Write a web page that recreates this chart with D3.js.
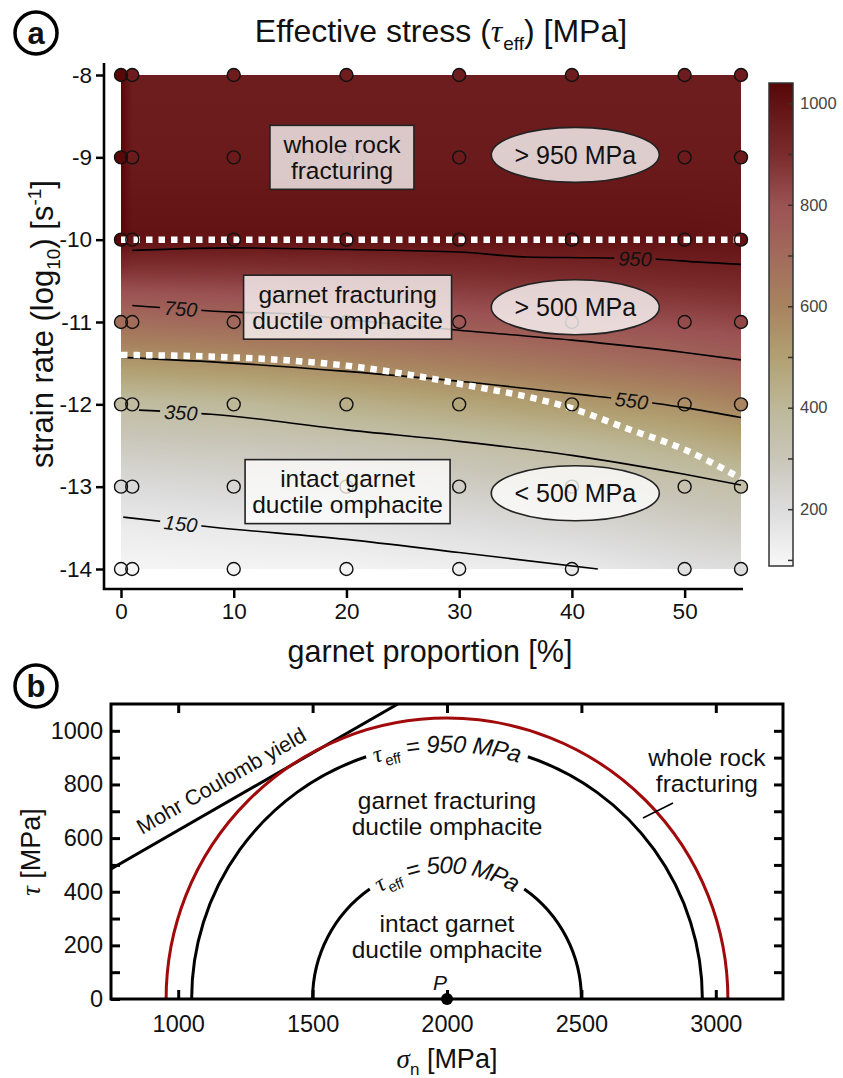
<!DOCTYPE html>
<html>
<head>
<meta charset="utf-8">
<script src="https://cdn.jsdelivr.net/npm/d3@7/dist/d3.min.js"></script>
<style>
  body { margin: 0; background: #fff; }
  svg text { font-family: "Liberation Sans", Arial, Helvetica, sans-serif; fill: #111; }
  .greek { font-family: "Liberation Serif", "DejaVu Serif", serif; font-style: italic; }
</style>
</head>
<body>
<svg id="fig" width="843" height="1078"></svg>
<script>
// ---------------- panel a : data ----------------
const garnetPct = [0, 1, 10, 20, 30, 40, 50, 55];          // model columns [%]
const strainRate = [-8, -9, -10, -11, -12, -13, -14];       // log10 strain rate rows
const fieldRows = [-8, -9, -10, -10.25, -10.5, -11, -11.5, -12, -12.5, -13, -13.5, -14];
const fieldStress = [
  [1035, 955, 955, 955, 955, 955, 955, 955],
  [1035, 965, 965, 965, 965, 965, 965, 965],
  [1035, 1000, 1000, 1000, 1000, 1000, 1000, 995],
  [930, 913, 912, 919, 929, 940, 955, 959],
  [841, 841, 847, 861, 878, 892, 909, 916],
  [691, 691, 711, 740, 775, 796, 818, 829],
  [528, 528, 550, 582, 623, 669, 713, 739],
  [372, 372, 391, 436, 476, 518, 559, 596],
  [284, 284, 296, 319, 347, 382, 435, 469],
  [207, 207, 223, 241, 267, 293, 329, 350],
  [140, 140, 150, 162, 190, 218, 257, 275],
  [100, 100, 105, 110, 125, 143, 185, 195]
];
const contourLevels = [950, 750, 550, 350, 150];
const contourLines = [
  [[1, -10.13], [10, -10.1], [20, -10.12], [30, -10.15], [36, -10.21], [42, -10.22], [48, -10.24], [51, -10.27], [55, -10.3]],
  [[1, -10.8], [10, -10.88], [15, -10.9], [20, -10.97], [30, -11.1], [40, -11.22], [50, -11.37], [55, -11.46]],
  [[0, -11.43], [10, -11.5], [20, -11.6], [30, -11.72], [40, -11.87], [47.5, -11.99], [50, -12.04], [55, -12.16]],
  [[1.6, -12.07], [8, -12.12], [20, -12.31], [30, -12.45], [40, -12.62], [50, -12.85], [55, -12.98]],
  [[0.2, -13.37], [8, -13.49], [20, -13.64], [30, -13.8], [42.3, -14.0]]
];
const contourLabelAt = [45.6, 5.3, 45.3, 5.3, 5.3];
const limit950 = [[0, -10], [55, -10]];
const limit500 = [[0, -11.4], [10, -11.43], [20, -11.53], [30, -11.75], [40, -12.05], [45, -12.3], [50, -12.55], [55, -12.9]];
const regimeText = [["whole rock", "fracturing"], ["garnet fracturing", "ductile omphacite"], ["intact garnet", "ductile omphacite"]];
const regimeAt = [[19.6, -9.0], [20.1, -10.82], [20.1, -13.06]];
const stressText = ["> 950 MPa", "> 500 MPa", "< 500 MPa"];
const stressAt = [[40.3, -8.97], [40.3, -10.82], [40.3, -13.08]];

// colour map (matches the colour bar)
const cmapStops = [88, 200, 300, 400, 500, 600, 700, 800, 900, 1000, 1040];
const cmapColors = ["#f8f8f8", "#dcdcdc", "#c9c6b9", "#bdb898", "#b1a072", "#a8835f", "#a26b5c", "#9b5253", "#7b2b2b", "#621212", "#560606"];
const barTicks = [100, 200, 300, 400, 500, 600, 700, 800, 900, 1000];

// ---------------- panel b : data ----------------
const sigmaP = 2000;                 // P [MPa]
const tauEffLevels = [500, 950];     // circle radii = tau_eff [MPa]
const wholeRockR = 1045;             // circle touching the envelope
const mohrLine = [[750, 485], [1817, 1100]];
const sigmaTicks = [1000, 1500, 2000, 2500, 3000];
const tauTicks = [0, 100, 200, 300, 400, 500, 600, 700, 800, 900, 1000];

const svg = d3.select("#fig");
const defs = svg.append("defs");
const color = d3.scaleLinear().domain(cmapStops).range(cmapColors).clamp(true);

// ================= panel a =================
const x = d3.scaleLinear().domain([0, 55]).range([121, 741]);
const y = d3.scaleLinear().domain([-8, -14]).range([75, 569]);
const gA = svg.append("g");

function stress(gx, gy) {
  let i = d3.bisectRight(garnetPct, gx) - 1;
  i = Math.max(0, Math.min(garnetPct.length - 2, i));
  let j = 0;
  while (j < fieldRows.length - 2 && fieldRows[j + 1] > gy) j++;
  const tx = Math.max(0, Math.min(1, (gx - garnetPct[i]) / (garnetPct[i + 1] - garnetPct[i])));
  const ty = Math.max(0, Math.min(1, (gy - fieldRows[j]) / (fieldRows[j + 1] - fieldRows[j])));
  const r0 = fieldStress[j], r1 = fieldStress[j + 1];
  return (r0[i] * (1 - tx) + r0[i + 1] * tx) * (1 - ty) + (r1[i] * (1 - tx) + r1[i + 1] * tx) * ty;
}

// colour field raster
const lut = d3.range(0, 1101).map((v) => d3.rgb(color(v)));
const W = Math.round(x(55) - x(0)), H = Math.round(y(-14) - y(-8));
const cv = document.createElement("canvas");
cv.width = W; cv.height = H;
const ctx = cv.getContext("2d");
const img = ctx.createImageData(W, H);
for (let r = 0; r < H; r++) {
  const gy = y.invert(y(-8) + r + 0.5);
  for (let c = 0; c < W; c++) {
    const col = lut[Math.round(stress(x.invert(x(0) + c + 0.5), gy))];
    const k = 4 * (r * W + c);
    img.data[k] = col.r; img.data[k + 1] = col.g; img.data[k + 2] = col.b; img.data[k + 3] = 255;
  }
}
ctx.putImageData(img, 0, 0);
gA.append("image").attr("href", cv.toDataURL()).attr("x", x(0)).attr("y", y(-8))
  .attr("width", W).attr("height", H).attr("preserveAspectRatio", "none");

// sample points (fills under the lines)
const samples = [];
strainRate.forEach((sr) => garnetPct.slice().reverse().forEach((g) => samples.push({ g, sr })));
gA.append("g").selectAll("circle").data(samples).join("circle")
  .attr("cx", (d) => x(d.g)).attr("cy", (d) => y(d.sr)).attr("r", 6.5)
  .attr("fill", (d) => color(stress(d.g, d.sr)));

// contour lines with label gaps
const lineA = d3.line().x((d) => x(d[0])).y((d) => y(d[1])).curve(d3.curveMonotoneX);
const cmask = defs.append("mask").attr("id", "cmask").attr("maskUnits", "userSpaceOnUse")
  .attr("x", 0).attr("y", 0).attr("width", 843).attr("height", 1078);
cmask.append("rect").attr("width", 843).attr("height", 1078).attr("fill", "#fff");
const gC = gA.append("g");
gC.append("g").attr("mask", "url(#cmask)").selectAll("path").data(contourLines).join("path")
  .attr("d", lineA).attr("fill", "none").attr("stroke", "#000").attr("stroke-width", 1.6);
contourLines.forEach((pts, k) => {
  const lx = contourLabelAt[k];
  let s = 0;
  while (s < pts.length - 2 && pts[s + 1][0] < lx) s++;
  const a = pts[s], b = pts[s + 1], t = (lx - a[0]) / (b[0] - a[0]);
  const ly = a[1] + t * (b[1] - a[1]);
  const ang = Math.atan2(y(b[1]) - y(a[1]), x(b[0]) - x(a[0])) * 180 / Math.PI;
  const tr = `translate(${x(lx)},${y(ly)}) rotate(${ang})`;
  const txt = gC.append("text").attr("transform", tr).attr("text-anchor", "middle").attr("dy", "0.36em")
    .attr("font-size", 20).attr("font-style", "italic").text(contourLevels[k]);
  const w = txt.node().getComputedTextLength();
  cmask.append("rect").attr("transform", tr).attr("x", -w / 2 - 4).attr("y", -9).attr("width", w + 8).attr("height", 18).attr("fill", "#000");
});

// regime boundaries (white dashed)
const lineB = d3.line().x((d) => x(d[0])).y((d) => y(d[1])).curve(d3.curveMonotoneX);
gA.append("g").selectAll("path").data([limit950, limit500]).join("path")
  .attr("d", lineB).attr("fill", "none").attr("stroke", "#fff").attr("stroke-width", 6.5).attr("stroke-dasharray", "6.5,6");

// sample point outlines on top
gA.append("g").selectAll("circle").data(samples).join("circle")
  .attr("cx", (d) => x(d.g)).attr("cy", (d) => y(d.sr)).attr("r", 6.5)
  .attr("fill", "none").attr("stroke", "#111").attr("stroke-width", 1.4);

// labels on the field
const boxW = [144, 208, 205];
regimeText.forEach((lines, k) => {
  const cx = x(regimeAt[k][0]), cy = y(regimeAt[k][1]);
  gA.append("rect").attr("x", cx - boxW[k] / 2).attr("y", cy - 32).attr("width", boxW[k]).attr("height", 64)
    .attr("fill", "#fff").attr("fill-opacity", 0.76).attr("stroke", "#222").attr("stroke-width", 1.6);
  lines.forEach((ln, i) => gA.append("text").attr("x", cx).attr("y", cy + (i - 0.5) * 26).attr("dy", "0.36em")
    .attr("text-anchor", "middle").attr("font-size", 24.5).text(ln));
});
stressText.forEach((s, k) => {
  const cx = x(stressAt[k][0]), cy = y(stressAt[k][1]);
  gA.append("ellipse").attr("cx", cx).attr("cy", cy).attr("rx", 84).attr("ry", 27.5)
    .attr("fill", "#fff").attr("fill-opacity", 0.78).attr("stroke", "#222").attr("stroke-width", 1.6);
  gA.append("text").attr("x", cx).attr("y", cy).attr("dy", "0.36em").attr("text-anchor", "middle")
    .attr("font-size", 25).text(s);
});

// axes panel a
const axY = gA.append("g").attr("transform", "translate(104,0)")
  .call(d3.axisLeft(y).tickValues(strainRate).tickSize(8).tickPadding(4));
const axX = gA.append("g").attr("transform", "translate(0,589)")
  .call(d3.axisBottom(x).tickValues([0, 10, 20, 30, 40, 50]).tickSize(9).tickPadding(5));
[axY, axX].forEach((ax) => {
  ax.select(".domain").remove();
  ax.selectAll(".tick line").attr("stroke", "#000").attr("stroke-width", 2.5);
  ax.selectAll(".tick text").attr("font-size", 22.5).attr("font-family", null).attr("fill", "#111");
});
axY.selectAll(".tick text").text((d) => "-" + Math.abs(d));
gA.append("path").attr("d", "M104,63V589H743").attr("fill", "none").attr("stroke", "#000").attr("stroke-width", 2.6);

gA.append("text").attr("x", 430).attr("y", 662).attr("text-anchor", "middle").attr("font-size", 30.5).text("garnet proportion [%]");
const yl = gA.append("text").attr("transform", "translate(53,324) rotate(-90)").attr("text-anchor", "middle").attr("font-size", 31);
yl.append("tspan").text("strain rate (log");
yl.append("tspan").attr("font-size", 19).attr("dy", 7).text("10");
yl.append("tspan").attr("dy", -7).text(") [s");
yl.append("tspan").attr("font-size", 19).attr("dy", -12).text("-1");
yl.append("tspan").attr("dy", 12).text("]");

const title = gA.append("text").attr("x", 441).attr("y", 42).attr("text-anchor", "middle").attr("font-size", 32);
title.append("tspan").text("Effective stress (");
title.append("tspan").attr("class", "greek").text("τ");
title.append("tspan").attr("font-size", 19).attr("dy", 8).attr("dx", 1).text("eff");
title.append("tspan").attr("dy", -8).text(") [MPa]");

// colour bar
const yc = d3.scaleLinear().domain([88, 1040]).range([566, 83]);
const grad = defs.append("linearGradient").attr("id", "cbar").attr("x1", 0).attr("y1", 1).attr("x2", 0).attr("y2", 0);
grad.selectAll("stop").data(cmapStops).join("stop")
  .attr("offset", (d) => (d - 88) / (1040 - 88)).attr("stop-color", (d, i) => cmapColors[i]);
gA.append("rect").attr("x", 769).attr("y", 83).attr("width", 24).attr("height", 483)
  .attr("fill", "url(#cbar)").attr("stroke", "#333").attr("stroke-width", 1.5);
const axC = gA.append("g").attr("transform", "translate(793,0)")
  .call(d3.axisRight(yc).tickValues(barTicks).tickSize(-5).tickPadding(7).tickFormat((d) => (d % 200 ? "" : d)));
axC.select(".domain").remove();
axC.selectAll(".tick line").attr("stroke", "#333").attr("stroke-width", 1.5);
axC.selectAll(".tick text").attr("font-size", 16.5).attr("font-family", null).style("fill", "#444");

// ================= panel b =================
const sx = d3.scaleLinear().domain([750, 3250]).range([111, 783]);
const sy = d3.scaleLinear().domain([0, 1100]).range([999, 704]);
const gB = svg.append("g");
const ccx = sx(sigmaP), ccy = sy(0);
const clip = defs.append("clipPath").attr("id", "bclip");
clip.append("rect").attr("x", sx(750)).attr("y", sy(1100)).attr("width", sx(3250) - sx(750)).attr("height", sy(0) - sy(1100));

function arcD(r, gap) {
  const R = sx(sigmaP + r) - ccx, p = d3.path();
  p.moveTo(ccx - R, ccy);
  if (!gap) { p.arc(ccx, ccy, R, Math.PI, 2 * Math.PI); return p.toString(); }
  p.arc(ccx, ccy, R, Math.PI, 1.5 * Math.PI - gap);
  p.moveTo(ccx + R * Math.sin(gap), ccy - R * Math.cos(gap));
  p.arc(ccx, ccy, R, 1.5 * Math.PI + gap, 2 * Math.PI);
  return p.toString();
}

// envelope
gB.append("path").attr("clip-path", "url(#bclip)")
  .attr("d", d3.line().x((d) => sx(d[0])).y((d) => sy(d[1]))(mohrLine))
  .attr("fill", "none").attr("stroke", "#000").attr("stroke-width", 3);
const ang = Math.atan2(sy(mohrLine[1][1]) - sy(mohrLine[0][1]), sx(mohrLine[1][0]) - sx(mohrLine[0][0])) * 180 / Math.PI;
const mid = 1200, midTau = mohrLine[0][1] + (mid - mohrLine[0][0]) * (mohrLine[1][1] - mohrLine[0][1]) / (mohrLine[1][0] - mohrLine[0][0]);
gB.append("text").attr("transform", `translate(${sx(mid)},${sy(midTau)}) rotate(${ang})`)
  .attr("y", -14).attr("text-anchor", "middle").attr("font-size", 21.5).text("Mohr Coulomb yield");

// whole rock circle
gB.append("path").attr("d", arcD(wholeRockR, 0)).attr("fill", "none").attr("stroke", "#a00a0a").attr("stroke-width", 3);

// tau_eff circles with labels along the arc
tauEffLevels.forEach((r, k) => {
  const R = sx(sigmaP + r) - ccx, th = 1.2;
  defs.append("path").attr("id", "arc" + k)
    .attr("d", `M${ccx - R * Math.sin(th)},${ccy - R * Math.cos(th)}A${R},${R} 0 0 1 ${ccx + R * Math.sin(th)},${ccy - R * Math.cos(th)}`);
  const t = gB.append("text").attr("font-size", 24).attr("font-style", "italic");
  const tp = t.append("textPath").attr("href", "#arc" + k).attr("startOffset", "50%").attr("text-anchor", "middle");
  tp.append("tspan").attr("class", "greek").attr("dy", "0.36em").text("τ");
  tp.append("tspan").attr("font-size", 15).attr("font-style", "normal").attr("dy", 6).attr("dx", 2).text("eff");
  tp.append("tspan").attr("dy", -6).text(" = " + r + " MPa");
  const L = t.node().getComputedTextLength();
  gB.append("path").attr("d", arcD(r, (L / 2 + 8) / R)).attr("fill", "none").attr("stroke", "#000").attr("stroke-width", 3);
});

// regime labels
const bLabels = [
  { lines: ["garnet fracturing", "ductile omphacite"], at: [2000, 740] },
  { lines: ["intact garnet", "ductile omphacite"], at: [2000, 283] },
  { lines: ["whole rock", "fracturing"], at: [2967, 900] }
];
bLabels.forEach((l) => l.lines.forEach((ln, i) => gB.append("text").attr("x", sx(l.at[0])).attr("y", sy(l.at[1]) + i * 26)
  .attr("dy", "0.36em").attr("text-anchor", "middle").attr("font-size", 24.5).text(ln)));
const leader = [[2729, 675], [2841, 731]];
gB.append("path").attr("d", d3.line().x((d) => sx(d[0])).y((d) => sy(d[1]))(leader)).attr("stroke", "#000").attr("stroke-width", 1.5);

// point P
gB.append("circle").attr("cx", ccx).attr("cy", ccy).attr("r", 6).attr("fill", "#000");
gB.append("text").attr("x", ccx - 7).attr("y", ccy - 9).attr("text-anchor", "middle").attr("font-size", 21)
  .attr("font-style", "italic").text("P");

// frame and axes
const axL = gB.append("g").attr("transform", `translate(${sx(750)},0)`)
  .call(d3.axisLeft(sy).tickValues(tauTicks).tickSize(-9).tickPadding(8).tickFormat((d) => (d % 200 ? "" : d)));
const axR = gB.append("g").attr("transform", `translate(${sx(3250)},0)`)
  .call(d3.axisRight(sy).tickValues(tauTicks.slice(1)).tickSize(-9).tickFormat(""));
const axBt = gB.append("g").attr("transform", `translate(0,${sy(0)})`)
  .call(d3.axisBottom(sx).tickValues(sigmaTicks).tickSize(-9).tickPadding(16).tickFormat(d3.format("d")));
const axT = gB.append("g").attr("transform", `translate(0,${sy(1100)})`)
  .call(d3.axisTop(sx).tickValues(sigmaTicks).tickSize(-9).tickFormat(""));
[axL, axR, axBt, axT].forEach((ax) => {
  ax.select(".domain").remove();
  ax.selectAll(".tick line").attr("stroke", "#000").attr("stroke-width", 3);
  ax.selectAll(".tick text").attr("font-size", 23.5).attr("font-family", null).attr("fill", "#111");
});
gB.append("rect").attr("x", sx(750)).attr("y", sy(1100)).attr("width", sx(3250) - sx(750)).attr("height", sy(0) - sy(1100))
  .attr("fill", "none").attr("stroke", "#000").attr("stroke-width", 3);

const xlb = gB.append("text").attr("x", 447).attr("y", 1068).attr("text-anchor", "middle").attr("font-size", 27);
xlb.append("tspan").attr("class", "greek").text("σ");
xlb.append("tspan").attr("font-size", 17).attr("dy", 7).text("n");
xlb.append("tspan").attr("dy", -7).text(" [MPa]");
const ylb = gB.append("text").attr("transform", "translate(40,852) rotate(-90)").attr("text-anchor", "middle").attr("font-size", 27);
ylb.append("tspan").attr("class", "greek").text("τ");
ylb.append("tspan").text(" [MPa]");

// panel letters
[["a", 33], ["b", 686]].forEach(([s, cy]) => {
  svg.append("circle").attr("cx", 36).attr("cy", cy).attr("r", 21).attr("fill", "#fff").attr("stroke", "#000").attr("stroke-width", 3.5);
  svg.append("text").attr("x", 36).attr("y", cy).attr("dy", "0.35em").attr("text-anchor", "middle")
    .attr("font-size", 31).attr("font-weight", "bold").text(s);
});
</script>
</body>
</html>
